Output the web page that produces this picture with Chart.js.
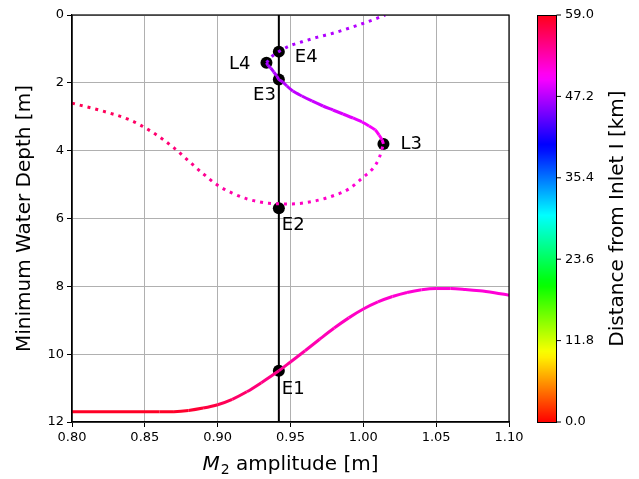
<!DOCTYPE html>
<html lang="en">
<head>
<meta charset="UTF-8">
<title>M2 amplitude vs minimum water depth</title>
<script src="https://cdn.jsdelivr.net/npm/chart.js"></script>
<style>
  * { margin: 0; padding: 0; box-sizing: border-box; }
  body { background: #fff; width: 639px; height: 479px; overflow: hidden; }
</style>
</head>
<body>
<canvas id="depthChart" width="639" height="479"></canvas>
<script>
// lower branch (solid)
const lowX = [0.80, 0.82, 0.84, 0.86, 0.87, 0.88, 0.89, 0.90, 0.91, 0.92, 0.93, 0.942, 0.95, 0.96, 0.97, 0.98, 0.99, 1.00, 1.01, 1.02, 1.03, 1.04, 1.05, 1.06, 1.07, 1.08, 1.09, 1.10];
const lowY = [11.70, 11.70, 11.70, 11.70, 11.695, 11.66, 11.59, 11.49, 11.33, 11.11, 10.84, 10.49, 10.23, 9.90, 9.56, 9.23, 8.93, 8.67, 8.46, 8.30, 8.18, 8.10, 8.065, 8.065, 8.09, 8.13, 8.19, 8.26];
const lowDist = [58.5, 58.5, 58.5, 58.5, 58.4, 58.1, 57.7, 57.0, 56.2, 55.5, 55.0, 54.3, 53.8, 53.3, 52.9, 52.6, 52.3, 52.1, 51.9, 51.8, 51.7, 51.6, 51.6, 51.5, 51.5, 51.5, 51.5, 51.5];

// middle unstable branch (dotted), from the left edge down and back up to L3
const upX = [0.80, 0.82, 0.84, 0.855, 0.87, 0.88, 0.89, 0.90, 0.91, 0.92, 0.935, 0.95, 0.965, 0.98, 0.99, 1.00, 1.007, 1.011, 1.0138];
const upY = [2.60, 2.82, 3.10, 3.45, 3.92, 4.30, 4.68, 5.02, 5.25, 5.42, 5.55, 5.57, 5.50, 5.32, 5.13, 4.78, 4.50, 4.20, 3.80];
const upDist = [56.8, 56.5, 56.1, 55.7, 55.2, 54.8, 54.3, 53.8, 53.4, 53.0, 52.7, 52.4, 52.2, 51.9, 51.7, 51.5, 51.3, 51.2, 51.1];

// upper stable branch (solid), L3 -> E3 -> L4
const midX = [1.0138, 1.0129, 1.0108, 1.0081, 1.0039, 0.9991, 0.9929, 0.9860, 0.9791, 0.9723, 0.9647, 0.9578, 0.9516, 0.9475, 0.9447, 0.942, 0.9406, 0.9385, 0.9364, 0.9344, 0.9335];
const midY = [3.80, 3.685, 3.538, 3.390, 3.272, 3.154, 3.037, 2.919, 2.801, 2.683, 2.535, 2.388, 2.241, 2.093, 1.975, 1.90, 1.798, 1.680, 1.562, 1.474, 1.41];
const midDist = [50.8, 50.6, 50.3, 50.0, 49.6, 49.2, 48.9, 48.6, 48.3, 48.0, 47.8, 47.6, 47.4, 47.2, 47.1, 47.0, 46.9, 46.8, 46.7, 46.6, 46.6];

// top branch (dotted), L4 -> E4 -> top edge
const topX = [0.9335, 0.937, 0.942, 0.950, 0.958, 0.968, 0.979, 0.990, 1.001, 1.008, 1.015];
const topY = [1.41, 1.23, 1.08, 0.90, 0.79, 0.66, 0.54, 0.39, 0.23, 0.12, 0.0];
const topDist = [46.4, 46.5, 46.6, 46.7, 46.8, 46.9, 47.0, 47.1, 47.2, 47.3, 47.3];

// marked equilibria and limit points
const ptNames = ['E1', 'E2', 'E3', 'E4', 'L3', 'L4'];
const ptX = [0.942, 0.942, 0.942, 0.942, 1.0138, 0.9335];
const ptY = [10.49, 5.70, 1.90, 1.08, 3.80, 1.41];

const refAmp = 0.942;
const distMax = 59.0;
const cbarTicks = [0.0, 11.8, 23.6, 35.4, 47.2, 59.0];

// matplotlib 'hsv' colormap
const HSV_R = [[0, 1], [0.158730, 1], [0.174603, 0.96875], [0.333333, 0.03125], [0.349206, 0], [0.666667, 0], [0.682540, 0], [0.841270, 0.96875], [0.857143, 1], [1, 1]];
const HSV_G = [[0, 0], [0.158730, 0.9375], [0.174603, 1], [0.507937, 1], [0.666667, 0.0625], [0.682540, 0], [1, 0]];
const HSV_B = [[0, 0], [0.333333, 0], [0.349206, 0.0625], [0.507937, 1], [0.841270, 1], [0.857143, 0.9375], [1, 0.09375]];

function interp(tab, t) {
    for (let i = 1; i < tab.length; i++) {
        if (t <= tab[i][0]) {
            const [t0, v0] = tab[i - 1], [t1, v1] = tab[i];
            return v0 + (v1 - v0) * (t - t0) / (t1 - t0);
        }
    }
    return tab[tab.length - 1][1];
}

function cmap(d) {
    const t = Math.min(1, Math.max(0, d / distMax));
    const r = Math.round(255 * interp(HSV_R, t));
    const g = Math.round(255 * interp(HSV_G, t));
    const b = Math.round(255 * interp(HSV_B, t));
    return `rgb(${r},${g},${b})`;
}

function points(xs, ys) {
    return xs.map((x, i) => ({x: x, y: ys[i]}));
}

// solid branch: colour each segment from its distance values
function solidCurve(xs, ys, dist, opts) {
    return Object.assign({
        data: points(xs, ys),
        showLine: true,
        pointRadius: 0,
        borderWidth: 3,
        segment: {
            borderColor: ctx => cmap((dist[ctx.p0DataIndex] + dist[ctx.p1DataIndex]) / 2)
        }
    }, opts);
}

// dotted branch: one stroke with a gradient along x, so the dots stay even
function dottedCurve(xs, ys, dist) {
    return {
        data: points(xs, ys),
        showLine: true,
        pointRadius: 0,
        borderWidth: 3,
        borderDash: [3, 5],
        cubicInterpolationMode: 'monotone',
        borderColor: ctx => {
            const chart = ctx.chart;
            if (!chart.chartArea) return cmap(dist[0]);
            const sx = chart.scales.x;
            const p0 = sx.getPixelForValue(xs[0]);
            const p1 = sx.getPixelForValue(xs[xs.length - 1]);
            const g = chart.ctx.createLinearGradient(p0, 0, p1, 0);
            xs.forEach((x, i) => {
                g.addColorStop(Math.min(1, Math.max(0, (sx.getPixelForValue(x) - p0) / (p1 - p0))), cmap(dist[i]));
            });
            return g;
        }
    };
}

const decor = {
    id: 'decor',
    afterDraw(chart) {
        const {ctx, chartArea: a, scales} = chart;
        ctx.save();

        // axes frame
        ctx.strokeStyle = '#000';
        ctx.lineWidth = 1.2;
        ctx.strokeRect(a.left, a.top, a.right - a.left, a.bottom - a.top);

        // point labels
        const offs = {E1: [3, 23, 'left'], E2: [3, 22, 'left'], E3: [-3, 21, 'right'], E4: [16, 10, 'left'], L3: [17, 5, 'left'], L4: [-16, 6, 'right']};
        ctx.fillStyle = '#000';
        ctx.font = '18px "DejaVu Sans"';
        ctx.textBaseline = 'alphabetic';
        ptNames.forEach((n, i) => {
            const px = scales.x.getPixelForValue(ptX[i]);
            const py = scales.y.getPixelForValue(ptY[i]);
            const o = offs[n];
            ctx.textAlign = o[2];
            ctx.fillText(n, px + o[0], py + o[1]);
        });

        // x axis title with subscript
        const cx = (a.left + a.right) / 2;
        const base = 470;
        ctx.textAlign = 'left';
        ctx.font = 'italic 20px "DejaVu Sans"';
        const wM = ctx.measureText('M').width + 1;
        ctx.font = '14px "DejaVu Sans"';
        const w2 = ctx.measureText('2').width;
        ctx.font = '20px "DejaVu Sans"';
        const rest = ' amplitude [m]';
        const wR = ctx.measureText(rest).width;
        const x0 = cx - (wM + w2 + wR) / 2;
        ctx.font = 'italic 20px "DejaVu Sans"';
        ctx.fillText('M', x0, base);
        ctx.font = '14px "DejaVu Sans"';
        ctx.fillText('2', x0 + wM, base + 4);
        ctx.font = '20px "DejaVu Sans"';
        ctx.fillText(rest, x0 + wM + w2, base);

        // y axis title
        ctx.save();
        ctx.translate(25, (a.top + a.bottom) / 2);
        ctx.rotate(-Math.PI / 2);
        ctx.textAlign = 'center';
        ctx.textBaseline = 'middle';
        ctx.fillText('Minimum Water Depth [m]', 0, 0);
        ctx.restore();

        // colorbar
        const cl = 537, cr = 556, ct = a.top, cb = a.bottom;
        for (let y = ct; y < cb; y++) {
            ctx.fillStyle = cmap(distMax * (cb - y - 0.5) / (cb - ct));
            ctx.fillRect(cl, y, cr - cl, 1);
        }
        ctx.strokeStyle = '#000';
        ctx.lineWidth = 1;
        ctx.strokeRect(cl + 0.5, ct + 0.5, cr - cl, cb - ct);
        ctx.fillStyle = '#000';
        ctx.font = '13px "DejaVu Sans"';
        ctx.textAlign = 'left';
        ctx.textBaseline = 'middle';
        cbarTicks.forEach(v => {
            const y = cb - (cb - ct) * v / distMax;
            ctx.beginPath();
            ctx.moveTo(cr + 0.5, y);
            ctx.lineTo(cr + 5, y);
            ctx.stroke();
            ctx.fillText(v.toFixed(1), cr + 9, y);
        });
        ctx.save();
        ctx.translate(618, (ct + cb) / 2);
        ctx.rotate(-Math.PI / 2);
        ctx.textAlign = 'center';
        ctx.font = '20px "DejaVu Sans"';
        ctx.fillText('Distance from Inlet I [km]', 0, 0);
        ctx.restore();

        ctx.restore();
    }
};

Chart.defaults.font.family = '"DejaVu Sans"';
Chart.defaults.color = '#000';

new Chart(document.getElementById('depthChart'), {
    type: 'scatter',
    data: {
        datasets: [
            dottedCurve(upX, upY, upDist),
            dottedCurve(topX, topY, topDist),
            solidCurve(lowX, lowY, lowDist, {cubicInterpolationMode: 'monotone'}),
            solidCurve(midX, midY, midDist, {tension: 0.3}),
            {
                data: [{x: refAmp, y: 0}, {x: refAmp, y: 12}],
                showLine: true,
                pointRadius: 0,
                borderColor: '#000',
                borderWidth: 2
            },
            {
                data: points(ptX, ptY),
                pointRadius: 6,
                backgroundColor: '#000',
                borderWidth: 0,
                clip: false
            }
        ]
    },
    options: {
        responsive: false,
        animation: false,
        layout: {padding: {top: 15, right: 130, left: 0, bottom: 0}},
        plugins: {legend: {display: false}, tooltip: {enabled: false}},
        scales: {
            x: {
                type: 'linear',
                min: 0.8,
                max: 1.1,
                afterFit: s => { s.height = 57; },
                grid: {color: '#b0b0b0', lineWidth: 1, tickLength: 5, tickColor: '#000'},
                border: {color: '#000', width: 1.2},
                ticks: {stepSize: 0.05, padding: 3, font: {size: 13}, callback: v => v.toFixed(2)}
            },
            y: {
                type: 'linear',
                min: 0,
                max: 12,
                reverse: true,
                afterFit: s => { s.width = 72; },
                grid: {color: '#b0b0b0', lineWidth: 1, tickLength: 5, tickColor: '#000'},
                border: {color: '#000', width: 1.2},
                ticks: {stepSize: 2, padding: 3, font: {size: 13}}
            }
        }
    },
    plugins: [decor]
});
</script>
</body>
</html>
